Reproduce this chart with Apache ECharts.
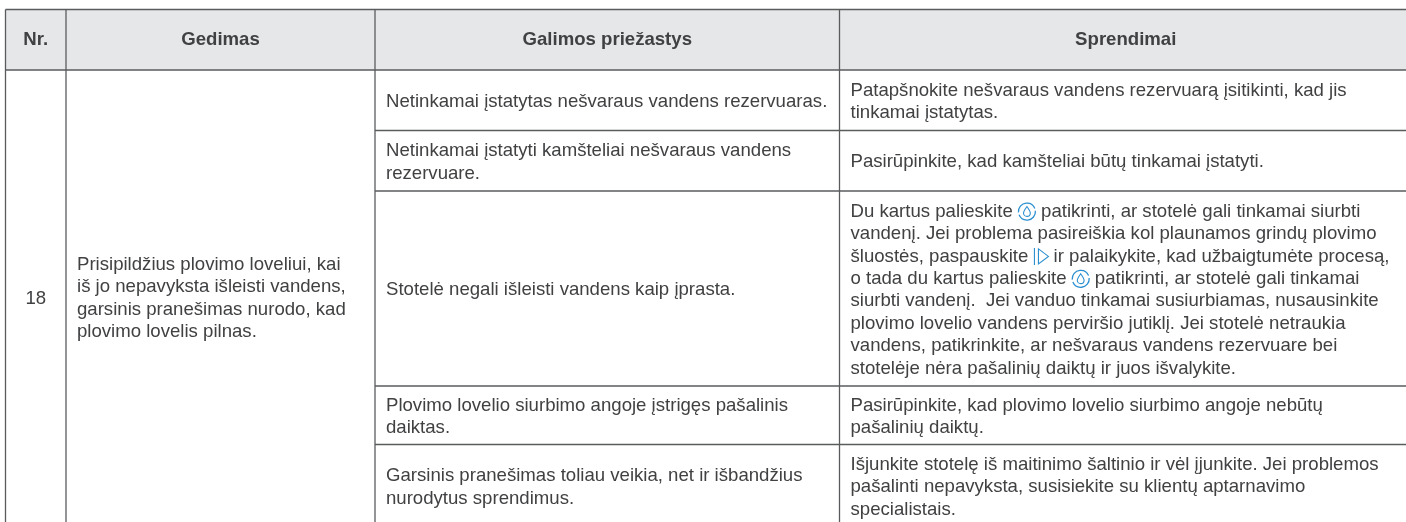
<!DOCTYPE html>
<html><head><meta charset="utf-8">
<style>html,body{margin:0;padding:0;background:#fff}#c{width:1406px;height:522px}</style>
<script src="https://cdn.jsdelivr.net/npm/echarts@6/dist/echarts.min.js"></script>
</head><body><div id="c"></div>
<script>
const headers = ['Nr.', 'Gedimas', 'Galimos priežastys', 'Sprendimai'];
const faultNumber = ['18'];
const faultLines = ['Prisipildžius plovimo loveliui, kai', 'iš jo nepavyksta išleisti vandens,', 'garsinis pranešimas nurodo, kad', 'plovimo lovelis pilnas.'];
const causes = [
  ['Netinkamai įstatytas nešvaraus vandens rezervuaras.'],
  ['Netinkamai įstatyti kamšteliai nešvaraus vandens', 'rezervuare.'],
  ['Stotelė negali išleisti vandens kaip įprasta.'],
  ['Plovimo lovelio siurbimo angoje įstrigęs pašalinis', 'daiktas.'],
  ['Garsinis pranešimas toliau veikia, net ir išbandžius', 'nurodytus sprendimus.']
];
// [[drop]] and [[play]] stand for the inline control icons
const solutions = [
  ['Patapšnokite nešvaraus vandens rezervuarą įsitikinti, kad jis', 'tinkamai įstatytas.'],
  ['Pasirūpinkite, kad kamšteliai būtų tinkamai įstatyti.'],
  ['Du kartus palieskite [[drop]] patikrinti, ar stotelė gali tinkamai siurbti',
   'vandenį. Jei problema pasireiškia kol plaunamos grindų plovimo',
   'šluostės, paspauskite [[play]] ir palaikykite, kad užbaigtumėte procesą,',
   'o tada du kartus palieskite [[drop]] patikrinti, ar stotelė gali tinkamai',
   'siurbti vandenį.  Jei vanduo tinkamai susiurbiamas, nusausinkite',
   'plovimo lovelio vandens perviršio jutiklį. Jei stotelė netraukia',
   'vandens, patikrinkite, ar nešvaraus vandens rezervuare bei',
   'stotelėje nėra pašalinių daiktų ir juos išvalykite.'],
  ['Pasirūpinkite, kad plovimo lovelio siurbimo angoje nebūtų', 'pašalinių daiktų.'],
  ['Išjunkite stotelę iš maitinimo šaltinio ir vėl įjunkite. Jei problemos', 'pašalinti nepavyksta, susisiekite su klientų aptarnavimo', 'specialistais.']
];

const L = {
  xs: [5.5, 66, 375, 839.5, 1412],
  ys: [9.5, 70, 130.5, 191, 386, 444.5, 527],
  pad: 11, lh: 22.4, font: 18.6, rowShift: 1.5,
  ink: '#404143', line: '#5a5b5d', head: '#e6e7e8', blue: '#2b8fd0',
  family: 'Liberation Sans'
};
const ctx = document.createElement('canvas').getContext('2d');
function width(s) { ctx.font = L.font + 'px "Liberation Sans"'; return ctx.measureText(s).width; }

function textEl(api, s, x, y, bold, align) {
  const p = api.coord([x, y]);
  return { type: 'text', x: p[0], y: p[1], style: { text: s, fill: L.ink, fontFamily: L.family, fontSize: L.font, fontWeight: bold ? 'bold' : 'normal', align: align || 'left', verticalAlign: 'middle' } };
}
function dropIcon(api, x, y) {
  const p = api.coord([x + 9, y]);
  const ring = (a, b) => ({ type: 'arc', shape: { cx: 0, cy: 0, r: 8.5, startAngle: a, endAngle: b }, style: { stroke: L.blue, fill: null, lineWidth: 1.3 } });
  return { type: 'group', x: p[0], y: p[1], children: [
    ring(-0.1, 2.75), ring(3.05, 5.9),
    { type: 'path', shape: { pathData: 'M0 -5 C2.2 -2 3.4 -0.4 3.4 1.4 A3.4 3.4 0 0 1 -3.4 1.4 C-3.4 -0.4 -2.2 -2 0 -5 Z', x: -3.4, y: -5, width: 6.8, height: 9.8 }, style: { stroke: L.blue, fill: null, lineWidth: 1.1 } }
  ] };
}
function playIcon(api, x, y) {
  const p = api.coord([x, y]);
  return { type: 'group', x: p[0], y: p[1], children: [
    { type: 'line', shape: { x1: 1, y1: -8.5, x2: 1, y2: 8.5 }, style: { stroke: L.blue, lineWidth: 1.1 } },
    { type: 'polygon', shape: { points: [[5, -7.5], [15, 0], [5, 7.5]] }, style: { stroke: L.blue, fill: null, lineWidth: 1.1 } }
  ] };
}
function lineEls(api, s, x, y) {
  const out = []; let cx = x;
  s.split(/(\[\[\w+\]\])/).forEach(part => {
    if (part === '[[drop]]') { out.push(dropIcon(api, cx, y)); cx += 18; }
    else if (part === '[[play]]') { out.push(playIcon(api, cx, y)); cx += 15; }
    else if (part) { out.push(textEl(api, part, cx, y)); cx += width(part); }
  });
  return out;
}
function block(api, lines, x, y0, y1, shift) {
  const mid = (y0 + y1) / 2 + (shift || 0), start = mid - (lines.length - 1) * L.lh / 2;
  let els = [];
  lines.forEach((s, i) => { els = els.concat(lineEls(api, s, x, start + i * L.lh)); });
  return els;
}
function rule(api, x1, y1, x2, y2) {
  const a = api.coord([x1, y1]), b = api.coord([x2, y2]);
  return { type: 'line', shape: { x1: a[0], y1: a[1], x2: b[0], y2: b[1] }, style: { stroke: L.line, lineWidth: 1.3 } };
}
function renderTable(params, api) {
  const X = L.xs, Y = L.ys, kids = [];
  const a = api.coord([X[0], Y[0]]), b = api.coord([X[4], Y[1]]);
  kids.push({ type: 'rect', shape: { x: a[0], y: a[1], width: b[0] - a[0], height: b[1] - a[1] }, style: { fill: L.head } });
  headers.forEach((h, i) => kids.push(textEl(api, h, (X[i] + X[i + 1]) / 2, (Y[0] + Y[1]) / 2, true, 'center')));
  kids.push(textEl(api, faultNumber[0], (X[0] + X[1]) / 2, (Y[1] + Y[6]) / 2, false, 'center'));
  block(api, faultLines, X[1] + L.pad, Y[1], Y[6]).forEach(e => kids.push(e));
  causes.forEach((c, i) => {
    block(api, c, X[2] + L.pad, Y[i + 1], Y[i + 2], L.rowShift).forEach(e => kids.push(e));
    block(api, solutions[i], X[3] + L.pad, Y[i + 1], Y[i + 2], L.rowShift).forEach(e => kids.push(e));
  });
  kids.push(rule(api, X[0], Y[0], X[4], Y[0]), rule(api, X[0], Y[1], X[4], Y[1]));
  for (let i = 2; i <= 5; i++) kids.push(rule(api, X[2], Y[i], X[4], Y[i]));
  X.forEach(x => kids.push(rule(api, x, Y[0], x, Y[6])));
  return { type: 'group', children: kids };
}
const chart = echarts.init(document.getElementById('c'), null, { renderer: 'canvas' });
chart.setOption({
  animation: false,
  grid: { left: 0, right: 0, top: 0, bottom: 0 },
  xAxis: { type: 'value', min: 0, max: 1406, show: false },
  yAxis: { type: 'value', min: 0, max: 522, inverse: true, show: false },
  series: [{ type: 'custom', coordinateSystem: 'cartesian2d', renderItem: renderTable, data: [[0, 0]], silent: true, clip: false }]
});
</script></body></html>
